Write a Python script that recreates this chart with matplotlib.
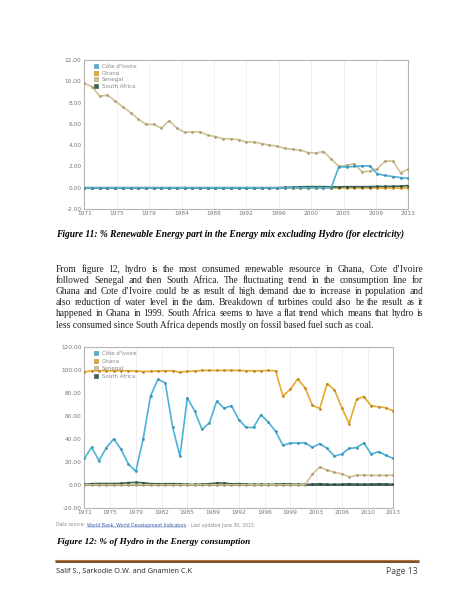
import numpy as np
import matplotlib
matplotlib.use('Agg')
import matplotlib.pyplot as plt
from matplotlib.lines import Line2D

W, H = 474, 613

# ---------------- data ----------------
years = np.arange(1971, 2014)
series_names = ["Côte d'Ivoire", "Ghana", "Senegal", "South Africa"]

# Figure 11: % renewable (excluding hydro) in electricity
c1_cote = [0.0] * 33 + [1.95, 1.95, 2.0, 2.05, 2.05, 1.3, 1.15, 1.05, 0.95, 0.88]
c1_ghana = [0.0] * 43
c1_senegal = [9.8, 9.5, 8.6, 8.7, 8.15, 7.6, 7.05, 6.45, 5.95, 5.95, 5.6, 6.3,
              5.6, 5.2, 5.25, 5.25, 4.95, 4.8, 4.6, 4.6, 4.5, 4.3, 4.3, 4.15,
              4.0, 3.9, 3.7, 3.6, 3.55, 3.3, 3.25, 3.4, 2.7, 2.0, 2.1, 2.25,
              1.5, 1.55, 1.8, 2.5, 2.5, 1.4, 1.75]
c1_safrica = [0.0] * 26 + [0.03, 0.05, 0.08, 0.1, 0.1, 0.1, 0.08, 0.08, 0.1,
                           0.1, 0.1, 0.1, 0.12, 0.12, 0.13, 0.15, 0.2]
c1_ticklabels = ["1971", "1975", "1979", "1984", "1988", "1992", "1996",
                 "2000", "2005", "2009", "2013"]
c1_yticks = [-2, 0, 2, 4, 6, 8, 10, 12]

# Figure 12: % of hydro in energy consumption
c2_cote = [23, 32.7, 21, 32.4, 40, 31, 18, 11.7, 40, 77.5, 92, 89, 50.7, 24.8,
           76, 64.4, 48.4, 54, 72.9, 66.8, 69, 56.9, 50.1, 50, 61, 54.8, 46.6,
           34.4, 36.4, 36.4, 36.7, 32.6, 35.9, 31.8, 25, 26.8, 31.8, 32.4,
           36.4, 26.8, 28.9, 25.7, 23]
c2_ghana = [98.5, 99.5, 99.5, 99.5, 99.5, 99.5, 99.5, 99.3, 98.8, 99.0, 99.3,
            99.5, 99.5, 98.3, 99.0, 99.3, 99.8, 99.8, 99.8, 99.8, 99.8, 99.8,
            99.5, 99.5, 99.5, 99.8, 99.5,
            77.5, 83.3, 92.4, 84.8, 69.4, 66.5, 88.2, 83, 67.3, 53.4, 74.6,
            77, 69, 68, 67.3, 64.4]
c2_senegal = [0.0] * 31 + [9.3, 15.5, 12.8, 10.8, 9.6, 7.0, 8.2, 8.5, 8.2,
                           8.2, 8.2, 8.4]
c2_safrica = [0.3, 1.0, 1.1, 1.1, 1.1, 1.2, 1.9, 2.0, 1.8, 1.0, 0.9, 0.9, 1.0,
              0.8, 0.4, 0.3, 0.6, 0.9, 1.6, 1.5, 0.8, 1.0, 0.6, 0.3, 0.5, 0.3,
              0.6, 0.8, 0.7, 0.4, 0.4, 0.5, 0.9, 0.4, 0.4, 0.5, 0.9, 0.5, 0.5,
              0.6, 0.8, 0.7, 0.4]
c2_ticklabels = ["1971", "1975", "1979", "1982", "1985", "1989", "1992",
                 "1996", "1999", "2003", "2006", "2010", "2013"]
c2_yticks = [-20, 0, 20, 40, 60, 80, 100, 120]

# ---------------- text ----------------
caption11 = "Figure 11: % Renewable Energy part in the Energy mix excluding Hydro (for electricity)"
paragraph = [
    "From figure 12, hydro is the most consumed renewable resource in Ghana, Cote d\u2019Ivoire",
    "followed Senegal and then South Africa.  The fluctuating trend in the consumption line for",
    "Ghana and Cote d\u2019Ivoire could be as result of high demand due to increase in population and",
    "also reduction of water level in the dam. Breakdown of turbines could also be the result as it",
    "happened in Ghana in 1999. South Africa seems to have a flat trend which means that hydro is",
    "less consumed since South Africa depends mostly on fossil based fuel such as coal.",
]
source_parts = ["Data source: ", "World Bank, World Development Indicators",
                " - Last updated June 30, 2015"]
caption12 = "Figure 12: % of Hydro in the Energy consumption"
footer_left = "Salif S., Sarkodie O.W. and Gnamien C.K"
footer_right = "Page 13"

colors = {"Côte d'Ivoire": "#4db2d8", "Ghana": "#e6aa2e",
          "Senegal": "#d3c295", "South Africa": "#3d6656"}
edge = {"Côte d'Ivoire": "#3a8fb0", "Ghana": "#b98620",
        "Senegal": "#a89a72", "South Africa": "#2c4a3f"}

# ---------------- figure ----------------
fig = plt.figure(figsize=(W / 100, H / 100), dpi=100)
fig.patch.set_facecolor("white")
renderer = fig.canvas.get_renderer()


def rect(l, t, r, b):
    return [l / W, 1 - b / H, (r - l) / W, (b - t) / H]


def style_axes(ax, ylim, yticks, ticklabels):
    ax.set_xlim(years[0], years[-1])
    ax.set_ylim(*ylim)
    ax.set_yticks(yticks)
    ax.set_yticklabels([f"{v:.2f}" for v in yticks])
    ax.set_xticks(np.linspace(years[0], years[-1], len(ticklabels)))
    ax.set_xticklabels(ticklabels)
    ax.tick_params(length=0, labelsize=4.2, labelcolor="#777777", pad=2)
    ax.tick_params(axis="x", pad=1.5)
    for s in ax.spines.values():
        s.set_color("#b5b5b5")
        s.set_linewidth(0.8)
    ax.grid(axis="x", color="#eeeeee", linewidth=0.6)
    ax.set_axisbelow(True)


def draw_series(ax, data, order):
    for name in order:
        ax.plot(years, data[name], color=colors[name], lw=1.2,
                marker="o", ms=1.6, mfc=edge[name], mec=edge[name],
                mew=0.3, zorder=3)


def legend(ax, spacing):
    handles = [Line2D([], [], ls="none", marker="s", ms=2.6,
                      mfc=colors[n], mec=edge[n], mew=0.4) for n in series_names]
    leg = ax.legend(handles, series_names, loc="upper left", frameon=False,
                    fontsize=4.0, handletextpad=0.6, labelspacing=spacing,
                    borderaxespad=0.3, handlelength=1.0,
                    bbox_to_anchor=(0.015, 1.0))
    for t in leg.get_texts():
        t.set_color("#888888")


# Chart 1
ax1 = fig.add_axes(rect(84.3, 60, 408.3, 209))
style_axes(ax1, (-2, 12), c1_yticks, c1_ticklabels)
d1 = {"Côte d'Ivoire": c1_cote, "Ghana": c1_ghana,
      "Senegal": c1_senegal, "South Africa": c1_safrica}
draw_series(ax1, d1, ["Ghana", "Senegal", "South Africa", "Côte d'Ivoire"])
legend(ax1, 0.3)

# Chart 2
ax2 = fig.add_axes(rect(84.3, 347.3, 393.3, 507.7))
style_axes(ax2, (-20, 120), c2_yticks, c2_ticklabels)
ax2.axhline(0, color="#3d5a4e", lw=1.3, zorder=2)
d2 = {"Côte d'Ivoire": c2_cote, "Ghana": c2_ghana,
      "Senegal": c2_senegal, "South Africa": c2_safrica}
draw_series(ax2, d2, ["South Africa", "Senegal", "Ghana", "Côte d'Ivoire"])
legend(ax2, 0.45)


# ---------------- page text ----------------
def width_of(t):
    return t.get_window_extent(renderer=renderer).width


def fit_text(x, y, s, target, size0=8.0, **kw):
    t = fig.text(x / W, 1 - y / H, s, fontsize=size0, va="center", **kw)
    w = width_of(t)
    t.set_fontsize(size0 * target / w)
    return t


serif = "Liberation Serif"
fit_text(56, 234.5, caption11, 352, family=serif, weight="bold", style="italic")
fit_text(56, 541.5, caption12, 194, family=serif, weight="bold", style="italic")

# paragraph: font size from the un-justified last line
probe = fig.text(0.5, 0.5, paragraph[-1], fontsize=8, family=serif)
psize = 8 * 317 / width_of(probe)
probe.remove()
line_y = [269.0, 280.2, 291.4, 302.6, 313.8, 325.0]
x0, x1 = 56, 423
for i, line in enumerate(paragraph):
    y = 1 - line_y[i] / H
    if i == len(paragraph) - 1:
        fig.text(x0 / W, y, line, fontsize=psize, family=serif, va="center",
                 color="#222222")
        continue
    words = line.split()
    arts = [fig.text(0.5, y, w, fontsize=psize, family=serif, va="center",
                     color="#222222") for w in words]
    widths = [width_of(a) for a in arts]
    gap = (x1 - x0 - sum(widths)) / (len(words) - 1)
    x = x0
    for a, w in zip(arts, widths):
        a.set_x(x / W)
        x += w + gap

# data source line
x = 56
src_cols = ["#8a8a8a", "#4060b0", "#8a8a8a"]
for k, (part, c) in enumerate(zip(source_parts, src_cols)):
    t = fig.text(x / W, 1 - 525 / H, part, fontsize=3.3, color=c, va="center",
                 family="DejaVu Sans")
    w = width_of(t)
    if k == 1:
        fig.add_artist(Line2D([x / W, (x + w) / W], [1 - 527 / H] * 2,
                              color=c, lw=0.3))
    x += w

# footer rule and text
fig.add_artist(Line2D([55 / W, 419 / W], [1 - 560.7 / H] * 2,
                      color="#7e5228", lw=2.2, solid_capstyle="butt"))
fig.add_artist(Line2D([55 / W, 419 / W], [1 - 559.9 / H] * 2,
                      color="#c58a4f", lw=0.5, solid_capstyle="butt"))
fit_text(56, 571, footer_left, 136, family="Open Sans", color="#222222")
t = fig.text(418 / W, 1 - 571 / H, footer_right, ha="right", va="center",
             family="Open Sans", color="#444444", fontsize=6.2)

fig.savefig("out.png", dpi=100, facecolor="white")
